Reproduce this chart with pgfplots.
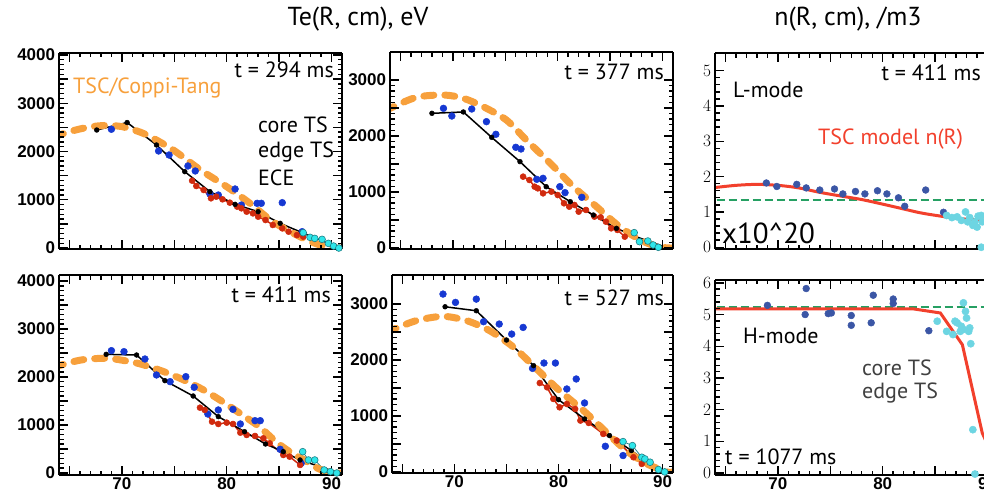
\documentclass[border=0pt]{standalone}
\usepackage{fontspec}
\setmainfont{PT Sans}
\newfontfamily\tickfont{Liberation Sans}
\usepackage{pgfplots}
\pgfplotsset{compat=1.18}
\definecolor{tscor}{HTML}{F7A03C}
\definecolor{tsblue}{HTML}{1638D2}
\definecolor{tsred}{HTML}{D02A0E}
\definecolor{ececyan}{HTML}{2EE6EA}
\definecolor{ecedark}{HTML}{1F7F86}
\definecolor{nblue}{HTML}{3B56A5}
\definecolor{ncyan}{HTML}{6DD5E2}
\definecolor{nred}{HTML}{F2402C}
\definecolor{ngreen}{HTML}{26A063}
\pgfplotsset{
  every axis/.append style={line width=1.8pt},
  every tick/.append style={line width=1.4pt, black},
  panel/.style={
    scale only axis, width=283pt, height=196pt, xmin=64, xmax=91,
    anchor=south west,
    axis on top,
    separate axis lines,
    axis line style={draw=black, line width=1.8pt},
    every outer x axis line/.append style={line width=1.8pt},
    every outer y axis line/.append style={line width=1.8pt},
    major tick length=9pt, minor tick length=4.5pt,
    xtick align=inside, ytick align=inside,
    xtick pos=both, ytick pos=both,
    xtick={65,70,...,90}, minor x tick num=4,
    xticklabels={},
    ticklabel style={font=\tickfont\bfseries\fontsize{17}{17}\selectfont},
    yticklabel style={anchor=east, inner sep=0pt, xshift=-3pt},
    xticklabel style={anchor=north, inner sep=0pt, yshift=-1.5pt},
  },
  te4000/.style={ymin=-20, ymax=4040, ytick={0,500,...,4000},
    yticklabels={0,,1000,,2000,,3000,,4000}, minor y tick num=4},
  te3500/.style={ymin=-18, ymax=3500, ytick={0,500,...,3000},
    yticklabels={0,,1000,,2000,,3000}, minor y tick num=4},
  tsc/.style={tscor, line width=7pt, dash pattern=on 10pt off 11pt, line cap=round, smooth, no markers},
  blk/.style={black, line width=1.5pt, mark=*, mark size=2.4pt, mark options={solid, fill=black, line width=0.5pt}},
  bdot/.style={only marks, mark=*, mark size=3.4pt, mark options={draw=tsblue, fill=tsblue, line width=0.5pt}},
  rdot/.style={tsred, line width=1.5pt, mark=*, mark size=3pt, mark options={draw=tsred, fill=tsred, line width=0.5pt}},
  cdot/.style={ecedark, line width=0.8pt, mark=*, mark size=3.4pt, mark options={draw=ecedark, fill=ececyan, line width=0.6pt}},
  nbdot/.style={only marks, mark=*, mark size=3.4pt, mark options={draw=nblue, fill=nblue, line width=0.5pt}},
  ncdot/.style={only marks, mark=*, mark size=3.6pt, mark options={draw=ncyan, fill=ncyan, line width=0.5pt}},
}
\begin{document}
\begin{tikzpicture}
\useasboundingbox (0,0) rectangle (984pt,491pt);
% ---------------- Panel 1: t = 294 ms
\begin{axis}[panel, te4000, at={(59pt,242pt)}]
\addplot[bdot] coordinates {(69.0,2460) (73.5,2010) (74.5,1927) (76.3,1700) (77.0,1596) (78.4,1119) (79.2,1098) (80.8,1223) (81.4,891) (82.9,926) (83.3,926) (85.3,940) (87.2,339)};
\addplot[rdot] coordinates {(76.7,1395) (77.1,1285) (77.8,1202) (78.5,1030) (79.0,1064) (79.6,1009) (80.3,940) (81.0,857) (81.4,823) (81.9,753) (82.5,718) (83.0,649) (83.7,580) (84.4,477) (85.3,408) (85.9,339) (86.7,269) (87.3,235)};
\addplot[blk] coordinates {(67.6,2445) (70.5,2600) (73.3,2135) (76.0,1582) (78.4,1168) (80.8,905) (83.0,753) (85.1,512) (87.2,318)};
\addplot[black, line width=1.5pt] coordinates {(87.2,318) (89.0,160) (90.8,0)};
\addplot[cdot] coordinates {(87.3,318) (87.95,221) (88.4,200) (89.1,180) (89.7,97) (90.2,41) (90.7,0)};
\addplot[tsc] coordinates {(63.5,2310) (64,2340) (65.5,2440) (67,2510) (68.5,2540) (70,2515) (71.5,2420) (72.7,2307) (74.9,2031) (77.5,1617) (80,1271) (82.2,930) (84.4,546) (87,235) (88.9,62) (90.5,0) (91,0)};
\end{axis}
% ---------------- Panel 2: t = 377 ms
\begin{axis}[panel, te3500, height=197pt, at={(390pt,242pt)}]
\addplot[bdot] coordinates {(69.1,2494) (69.9,2357) (71.8,2482) (73.2,2256) (74.1,2030) (76.0,1798) (76.5,1768) (78.0,1226) (78.6,1244) (80.2,1095) (80.7,988) (82.3,905)};
\addplot[rdot] coordinates {(76.7,1274) (77.3,1214) (77.8,1095) (78.1,1065) (78.6,976) (79.4,1006) (80.0,946) (80.6,798) (81.1,738) (81.6,768) (82.0,649) (82.7,679) (83.5,560) (84.1,548) (84.6,470) (85.1,351) (85.7,322) (86.4,202)};
\addplot[blk] coordinates {(68.0,2405) (71.0,2429) (73.7,1976) (76.4,1542) (78.9,1095) (81.2,827) (83.4,589) (85.6,351)};
\addplot[black, line width=1.5pt] coordinates {(85.6,351) (87.5,200) (90.5,0)};
\addplot[cdot] coordinates {(87.3,274) (87.8,113) (88.6,125) (89.1,54) (89.6,12)};
\addplot[tsc] coordinates {(63.5,2450) (64,2494) (66.5,2690) (69.1,2732) (71,2673) (72.9,2523) (75.1,2286) (77,1929) (79.3,1512) (81.5,1095) (83.7,738) (85.9,381) (87.9,143) (89.5,24) (90.7,0) (91,0)};
\end{axis}
% ---------------- Panel 3: density L-mode
\begin{axis}[panel, at={(715pt,242pt)}, ymin=-0.05, ymax=5.5, ytick={0,1,...,5}, minor y tick num=4]
\addplot[ngreen, line width=2pt, dash pattern=on 8pt off 4pt] coordinates {(63,1.33) (92,1.33)};
\addplot[nbdot] coordinates {(68.9,1.82) (69.9,1.72) (71.8,1.78) (72.7,1.68) (74.0,1.62) (75.4,1.65) (76.2,1.51) (77.4,1.58) (78.3,1.51) (79.5,1.60) (80.4,1.51) (81.5,1.40) (82.1,1.16) (84.1,1.62) (85.8,0.99)};
\addplot[ncdot] coordinates {(86.1,0.90) (86.6,0.84) (87.1,0.86) (87.5,0.76) (87.9,1.00) (88.1,0.72) (88.3,0.84) (88.6,0.62) (88.8,0.72) (89.1,0.88) (89.4,0.90) (89.5,0.72) (89.0,0.57) (89.4,0.0)};
\addplot[nred, line width=3pt, smooth] coordinates {(63.7,1.68) (65.9,1.75) (68,1.78) (70.1,1.75) (72,1.68) (73.9,1.56) (76,1.45) (78,1.35) (80,1.22) (81.9,1.09) (83.5,0.98) (85.1,0.90) (86.8,0.83) (88.6,0.78) (91,0.75)};
\end{axis}
% ---------------- Panel 4: t = 411 ms
\begin{axis}[panel, te4000, ymin=-42, ymax=4125, height=200pt, at={(59pt,16pt)}, xticklabels={,70,,80,,90}]
\addplot[bdot] coordinates {(69.0,2549) (70.2,2528) (72.2,2375) (73.3,2042) (74.6,1903) (76.1,2007) (76.9,1785) (78.2,1229) (79.2,1313) (80.6,1326) (81.3,1021) (82.7,1090) (83.2,1090) (85.1,493) (87.1,201)};
\addplot[rdot] coordinates {(77.45,1361) (77.9,1313) (78.6,1069) (79.2,1021) (80.0,1049) (80.6,1021) (81.3,840) (81.9,792) (82.7,771) (83.5,722) (84.1,618) (85.4,375) (86.0,340) (87.0,167)};
\addplot[blk] coordinates {(68.5,2472) (71.4,2458) (74.1,1924) (76.8,1604) (79.2,1174) (81.7,861) (83.7,604) (85.4,444) (87.0,271)};
\addplot[black, line width=1.5pt] coordinates {(87.0,271) (90.7,0)};
\addplot[cdot] coordinates {(87.25,444) (87.8,271) (88.4,271) (89.3,63) (89.9,28) (90.5,0)};
\addplot[tsc] coordinates {(63.5,2200) (63.9,2229) (66.1,2354) (68.6,2389) (70.8,2319) (72.1,2250) (74.0,2111) (75.9,1938) (77.8,1729) (79.6,1486) (81.5,1208) (83.1,965) (84.7,653) (86.0,444) (87.4,271) (88.7,97) (89.9,0) (91,0)};
\end{axis}
% ---------------- Panel 5: t = 527 ms
\begin{axis}[panel, te3500, ymin=-20, ymax=3520, width=281pt, height=198pt, at={(392pt,18pt)}, xticklabels={,70,,80,,90}]
\addplot[bdot] coordinates {(68.9,3179) (70.1,3030) (72.1,3089) (72.8,2685) (74.3,2643) (75.5,2464) (76.6,2583) (77.5,1851) (78.6,1946) (79.7,1946) (80.8,1482) (81.7,1661) (82.5,1232) (84.5,458) (86.2,292)};
\addplot[rdot] coordinates {(78.2,1589) (78.9,1512) (79.5,1304) (80.1,1155) (80.8,1214) (81.6,1125) (82.1,917) (82.9,875) (84.3,679) (85.6,560) (87.2,262) (88.0,143)};
\addplot[blk] coordinates {(69.1,2952) (72.1,2881) (75.0,2357) (77.6,1899) (80.0,1292) (82.5,946) (84.9,649) (87.0,381)};
\addplot[black, line width=1.5pt] coordinates {(87.0,381) (89.7,18)};
\addplot[cdot] coordinates {(86.2,542) (87.1,470) (88.0,262) (88.3,232) (88.8,173) (89.6,42) (90.2,0)};
\addplot[tsc] coordinates {(63.5,2500) (63.8,2523) (66.3,2702) (68.9,2780) (71.2,2702) (73.4,2523) (75.7,2226) (77.9,1839) (80.1,1452) (82.4,1095) (84.6,708) (86.5,381) (88.5,143) (90.4,0) (91,0)};
\end{axis}
% ---------------- Panel 6: density H-mode
\begin{axis}[panel, height=195pt, at={(715pt,16pt)}, ymin=-0.06, ymax=6.09, ytick={0,1,...,6}, minor y tick num=4, xticklabels={,70,,80,,90}]
\addplot[ngreen, line width=2pt, dash pattern=on 8pt off 4pt] coordinates {(63,5.23) (92,5.23)};
\addplot[nbdot] coordinates {(69.0,5.29) (72.7,5.82) (72.6,5.0) (74.8,5.03) (75.1,5.05) (77.0,4.97) (77.0,4.66) (79.1,5.61) (78.9,4.74) (81.0,5.49) (81.0,5.35) (84.4,4.49)};
\addplot[ncdot] coordinates {(85.2,4.79) (86.1,4.47) (86.9,4.79) (87.1,4.74) (86.7,4.37) (87.5,4.63) (87.4,4.47) (87.7,5.37) (87.9,5.10) (88.0,4.89) (87.7,4.53) (88.3,4.58) (88.2,4.47) (88.4,4.08) (88.6,1.37) (88.8,-0.03)};
\addplot[nred, line width=3pt] coordinates {(63.7,5.18) (82.9,5.18) (85.5,5.05) (87.6,4.05) (89.5,1.26) (91,0.2)};
\end{axis}
% ---------------- Texts
\node[inner sep=0pt, font=\fontsize{26}{26}\selectfont] at (358pt,472pt) {Te(R, cm), eV};
\node[inner sep=0pt, font=\fontsize{26}{26}\selectfont] at (848pt,472pt) {n(R, cm), /m3};
\begin{scope}[every node/.style={inner sep=0pt, font=\fontsize{22}{22}\selectfont}]
\node[anchor=east] at (334pt,421pt) {t = 294 ms};
\node[anchor=west, text=tscor] at (73pt,403pt) {TSC/Coppi-Tang};
\node[anchor=west] at (258pt,366pt) {core TS};
\node[anchor=west] at (258pt,339pt) {edge TS};
\node[anchor=west] at (258pt,313pt) {ECE};
\node[anchor=east] at (664pt,419pt) {t = 377 ms};
\node[anchor=east] at (981pt,418pt) {t = 411 ms};
\node[anchor=west] at (733pt,401pt) {L-mode};
\node[anchor=west, text=nred] at (818pt,352pt) {TSC model n(R)};
\node[anchor=west, font=\fontsize{29}{29}\selectfont] at (722pt,258pt) {x10\textasciicircum 20};
\node[anchor=east] at (331pt,196pt) {t = 411 ms};
\node[anchor=east] at (664pt,193pt) {t = 527 ms};
\node[anchor=west] at (743pt,155pt) {H-mode};
\node[anchor=west, text=black!75] at (862pt,123pt) {core TS};
\node[anchor=west, text=black!75] at (862pt,98pt) {edge TS};
\node[anchor=west] at (725pt,34pt) {t = 1077 ms};
\end{scope}
\end{tikzpicture}
\end{document}
